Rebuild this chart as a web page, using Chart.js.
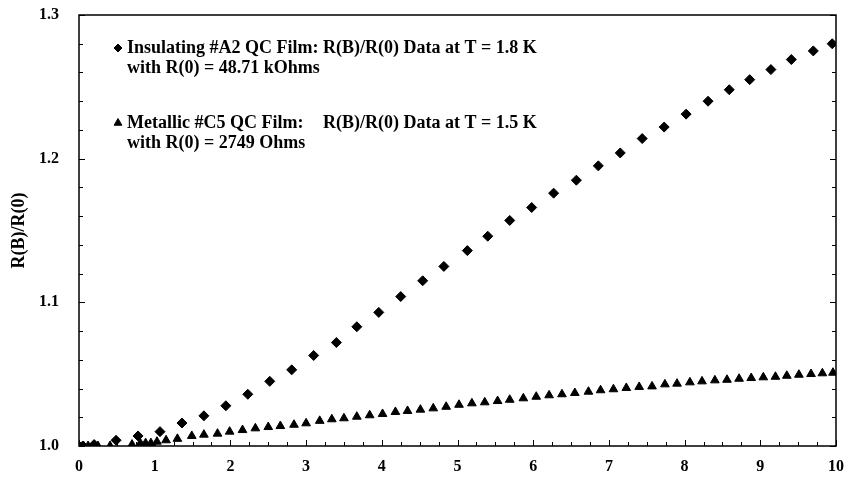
<!DOCTYPE html>
<html>
<head>
<meta charset="utf-8">
<script src="https://cdn.jsdelivr.net/npm/chart.js@4"></script>
<style>
  html, body { margin: 0; padding: 0; background: #fff; }
  #wrap { width: 845px; height: 478px; }
</style>
</head>
<body>
<div id="wrap"><canvas id="myChart"></canvas></div>
<script>
// Insulating #A2 film, T = 1.8 K
const insulatingB = [0, 0.05, 0.2, 0.49, 0.78, 1.07, 1.36, 1.65, 1.94, 2.23, 2.52, 2.81, 3.1, 3.4, 3.67, 3.96, 4.25, 4.54, 4.82, 5.13, 5.4, 5.69, 5.98, 6.27, 6.57, 6.86, 7.15, 7.44, 7.73, 8.02, 8.31, 8.59, 8.86, 9.14, 9.41, 9.7, 9.95];
const insulatingR = [1.0, 1.0, 1.001, 1.004, 1.007, 1.010, 1.016, 1.021, 1.028, 1.036, 1.045, 1.053, 1.063, 1.072, 1.083, 1.093, 1.104, 1.115, 1.125, 1.136, 1.146, 1.157, 1.166, 1.176, 1.185, 1.195, 1.204, 1.214, 1.222, 1.231, 1.240, 1.248, 1.255, 1.262, 1.269, 1.275, 1.280];

// Metallic #C5 film, T = 1.5 K
const metallicB = [0, 0.06, 0.12, 0.19, 0.25, 0.41, 0.7, 0.81, 0.88, 0.95, 1.03, 1.15, 1.3, 1.49, 1.65, 1.83, 1.99, 2.16, 2.33, 2.5, 2.66, 2.84, 3.0, 3.18, 3.34, 3.5, 3.67, 3.84, 4.01, 4.18, 4.34, 4.51, 4.68, 4.85, 5.02, 5.19, 5.36, 5.53, 5.69, 5.87, 6.04, 6.21, 6.38, 6.55, 6.73, 6.89, 7.06, 7.23, 7.4, 7.57, 7.74, 7.9, 8.07, 8.23, 8.4, 8.56, 8.72, 8.88, 9.04, 9.2, 9.35, 9.51, 9.67, 9.82, 9.96];
const metallicR = [1.0, 1.0, 1.0, 1.0, 1.0, 1.0, 1.001, 1.002, 1.002, 1.002, 1.003, 1.004, 1.005, 1.007, 1.0079, 1.0086, 1.0100, 1.0111, 1.0123, 1.0132, 1.0139, 1.0148, 1.0158, 1.0175, 1.0186, 1.0193, 1.0204, 1.0214, 1.0223, 1.0237, 1.0244, 1.0253, 1.0262, 1.0273, 1.0287, 1.0297, 1.0304, 1.0313, 1.0322, 1.0332, 1.0343, 1.0353, 1.0360, 1.0369, 1.0378, 1.0388, 1.0395, 1.0404, 1.0411, 1.0415, 1.0429, 1.0434, 1.0443, 1.0450, 1.0457, 1.0461, 1.0468, 1.0473, 1.0478, 1.0482, 1.0489, 1.0496, 1.0501, 1.0506, 1.0510];

const xTicks = [0, 1, 2, 3, 4, 5, 6, 7, 8, 9, 10];
const yTicks = [1.0, 1.1, 1.2, 1.3];

const legendLines = [
  ['Insulating #A2 QC Film: ', 'R(B)/R(0) Data at T = 1.8 K', 'with R(0) = 48.71 kOhms'],
  ['Metallic #C5 QC Film:', 'R(B)/R(0) Data at T = 1.5 K', 'with R(0) = 2749 Ohms'],
];

const serif = '"Liberation Serif", "DejaVu Serif", serif';

function pairs(xs, ys) {
  return xs.map((x, i) => ({ x: x, y: ys[i] }));
}

// tick labels may hang outside the box, the fixed layout padding handles it
function noOverhang(s) {
  s.paddingTop = 0;
  s.paddingBottom = 0;
  s.paddingLeft = 0;
  s.paddingRight = 0;
}

// frame, inward ticks and the in-plot legend
const framePlugin = {
  id: 'frame',
  afterDraw(chart) {
    const ctx = chart.ctx;
    const a = chart.chartArea;
    const xs = chart.scales.x;
    const ys = chart.scales.y;
    ctx.save();
    ctx.strokeStyle = '#000';
    ctx.lineWidth = 1.5;
    ctx.strokeRect(a.left, a.top, a.right - a.left, a.bottom - a.top);

    ctx.lineWidth = 1;
    ctx.beginPath();
    for (let i = 0; i <= 15; i++) {
      const py = Math.round(ys.getPixelForValue(1 + i * 0.02)) + 0.5;
      const len = i % 5 === 0 ? 6 : 4;
      ctx.moveTo(a.left, py); ctx.lineTo(a.left + len, py);
      ctx.moveTo(a.right, py); ctx.lineTo(a.right - len, py);
    }
    for (let i = 0; i <= 40; i++) {
      const px = Math.round(xs.getPixelForValue(i * 0.25)) + 0.5;
      const len = i % 4 === 0 ? 6 : 4;
      ctx.moveTo(px, a.bottom); ctx.lineTo(px, a.bottom - len);
    }
    ctx.stroke();

    ctx.fillStyle = '#000';
    ctx.font = 'bold 18px ' + serif;
    ctx.textBaseline = 'middle';
    const tx = a.left + 48;
    const secondCol = tx + ctx.measureText(legendLines[0][0]).width;
    const rows = [48, 123];
    const styles = ['rectRot', 'triangle'];
    legendLines.forEach((lines, k) => {
      const y0 = rows[k];
      Chart.helpers.drawPoint(ctx, { pointStyle: styles[k], radius: k ? 4.5 : 4, borderWidth: 1 }, a.left + 39, y0);
      ctx.fillText(lines[0], tx, y0);
      ctx.fillText(lines[1], secondCol, y0);
      ctx.fillText(lines[2], tx, y0 + 20);
    });
    ctx.restore();
  }
};

const chartData = {
  datasets: [
    {
      label: 'Insulating #A2 QC Film',
      data: pairs(insulatingB, insulatingR),
      pointStyle: 'rectRot',
      pointRadius: 5,
      backgroundColor: '#000',
      borderColor: '#000',
      borderWidth: 1,
      showLine: false,
    },
    {
      label: 'Metallic #C5 QC Film',
      data: pairs(metallicB, metallicR),
      pointStyle: 'triangle',
      pointRadius: 5,
      backgroundColor: '#000',
      borderColor: '#000',
      borderWidth: 1,
      showLine: false,
    },
  ],
};

const config = {
  type: 'scatter',
  data: chartData,
  options: {
    responsive: true,
    maintainAspectRatio: false,
    animation: false,
    layout: { padding: { left: 0, top: 15, right: 9, bottom: 0 } },
    plugins: {
      legend: { display: false },
      tooltip: { enabled: false },
    },
    scales: {
      x: {
        type: 'linear',
        min: 0,
        max: 10,
        afterBuildTicks: (s) => { s.ticks = xTicks.map(v => ({ value: v })); },
        afterFit: (s) => { s.height = 32; noOverhang(s); },
        grid: { display: false, drawTicks: false },
        border: { display: false },
        ticks: {
          color: '#000',
          padding: 11,
          maxRotation: 0,
          font: { family: serif, size: 16, weight: 'bold' },
        },
      },
      y: {
        type: 'linear',
        min: 1.0,
        max: 1.3,
        afterBuildTicks: (s) => { s.ticks = yTicks.map(v => ({ value: v })); },
        afterFit: (s) => { s.width = 79; noOverhang(s); },
        grid: { display: false, drawTicks: false },
        border: { display: false },
        title: {
          display: true,
          text: 'R(B)/R(0)',
          color: '#000',
          padding: { top: 9, bottom: 0 },
          font: { family: serif, size: 18, weight: 'bold' },
        },
        ticks: {
          color: '#000',
          padding: 20,
          callback: (v) => v.toFixed(1),
          font: { family: serif, size: 16, weight: 'bold' },
        },
      },
    },
  },
  plugins: [framePlugin],
};

const myChart = new Chart(document.querySelector('#myChart'), config);
</script>
</body>
</html>
